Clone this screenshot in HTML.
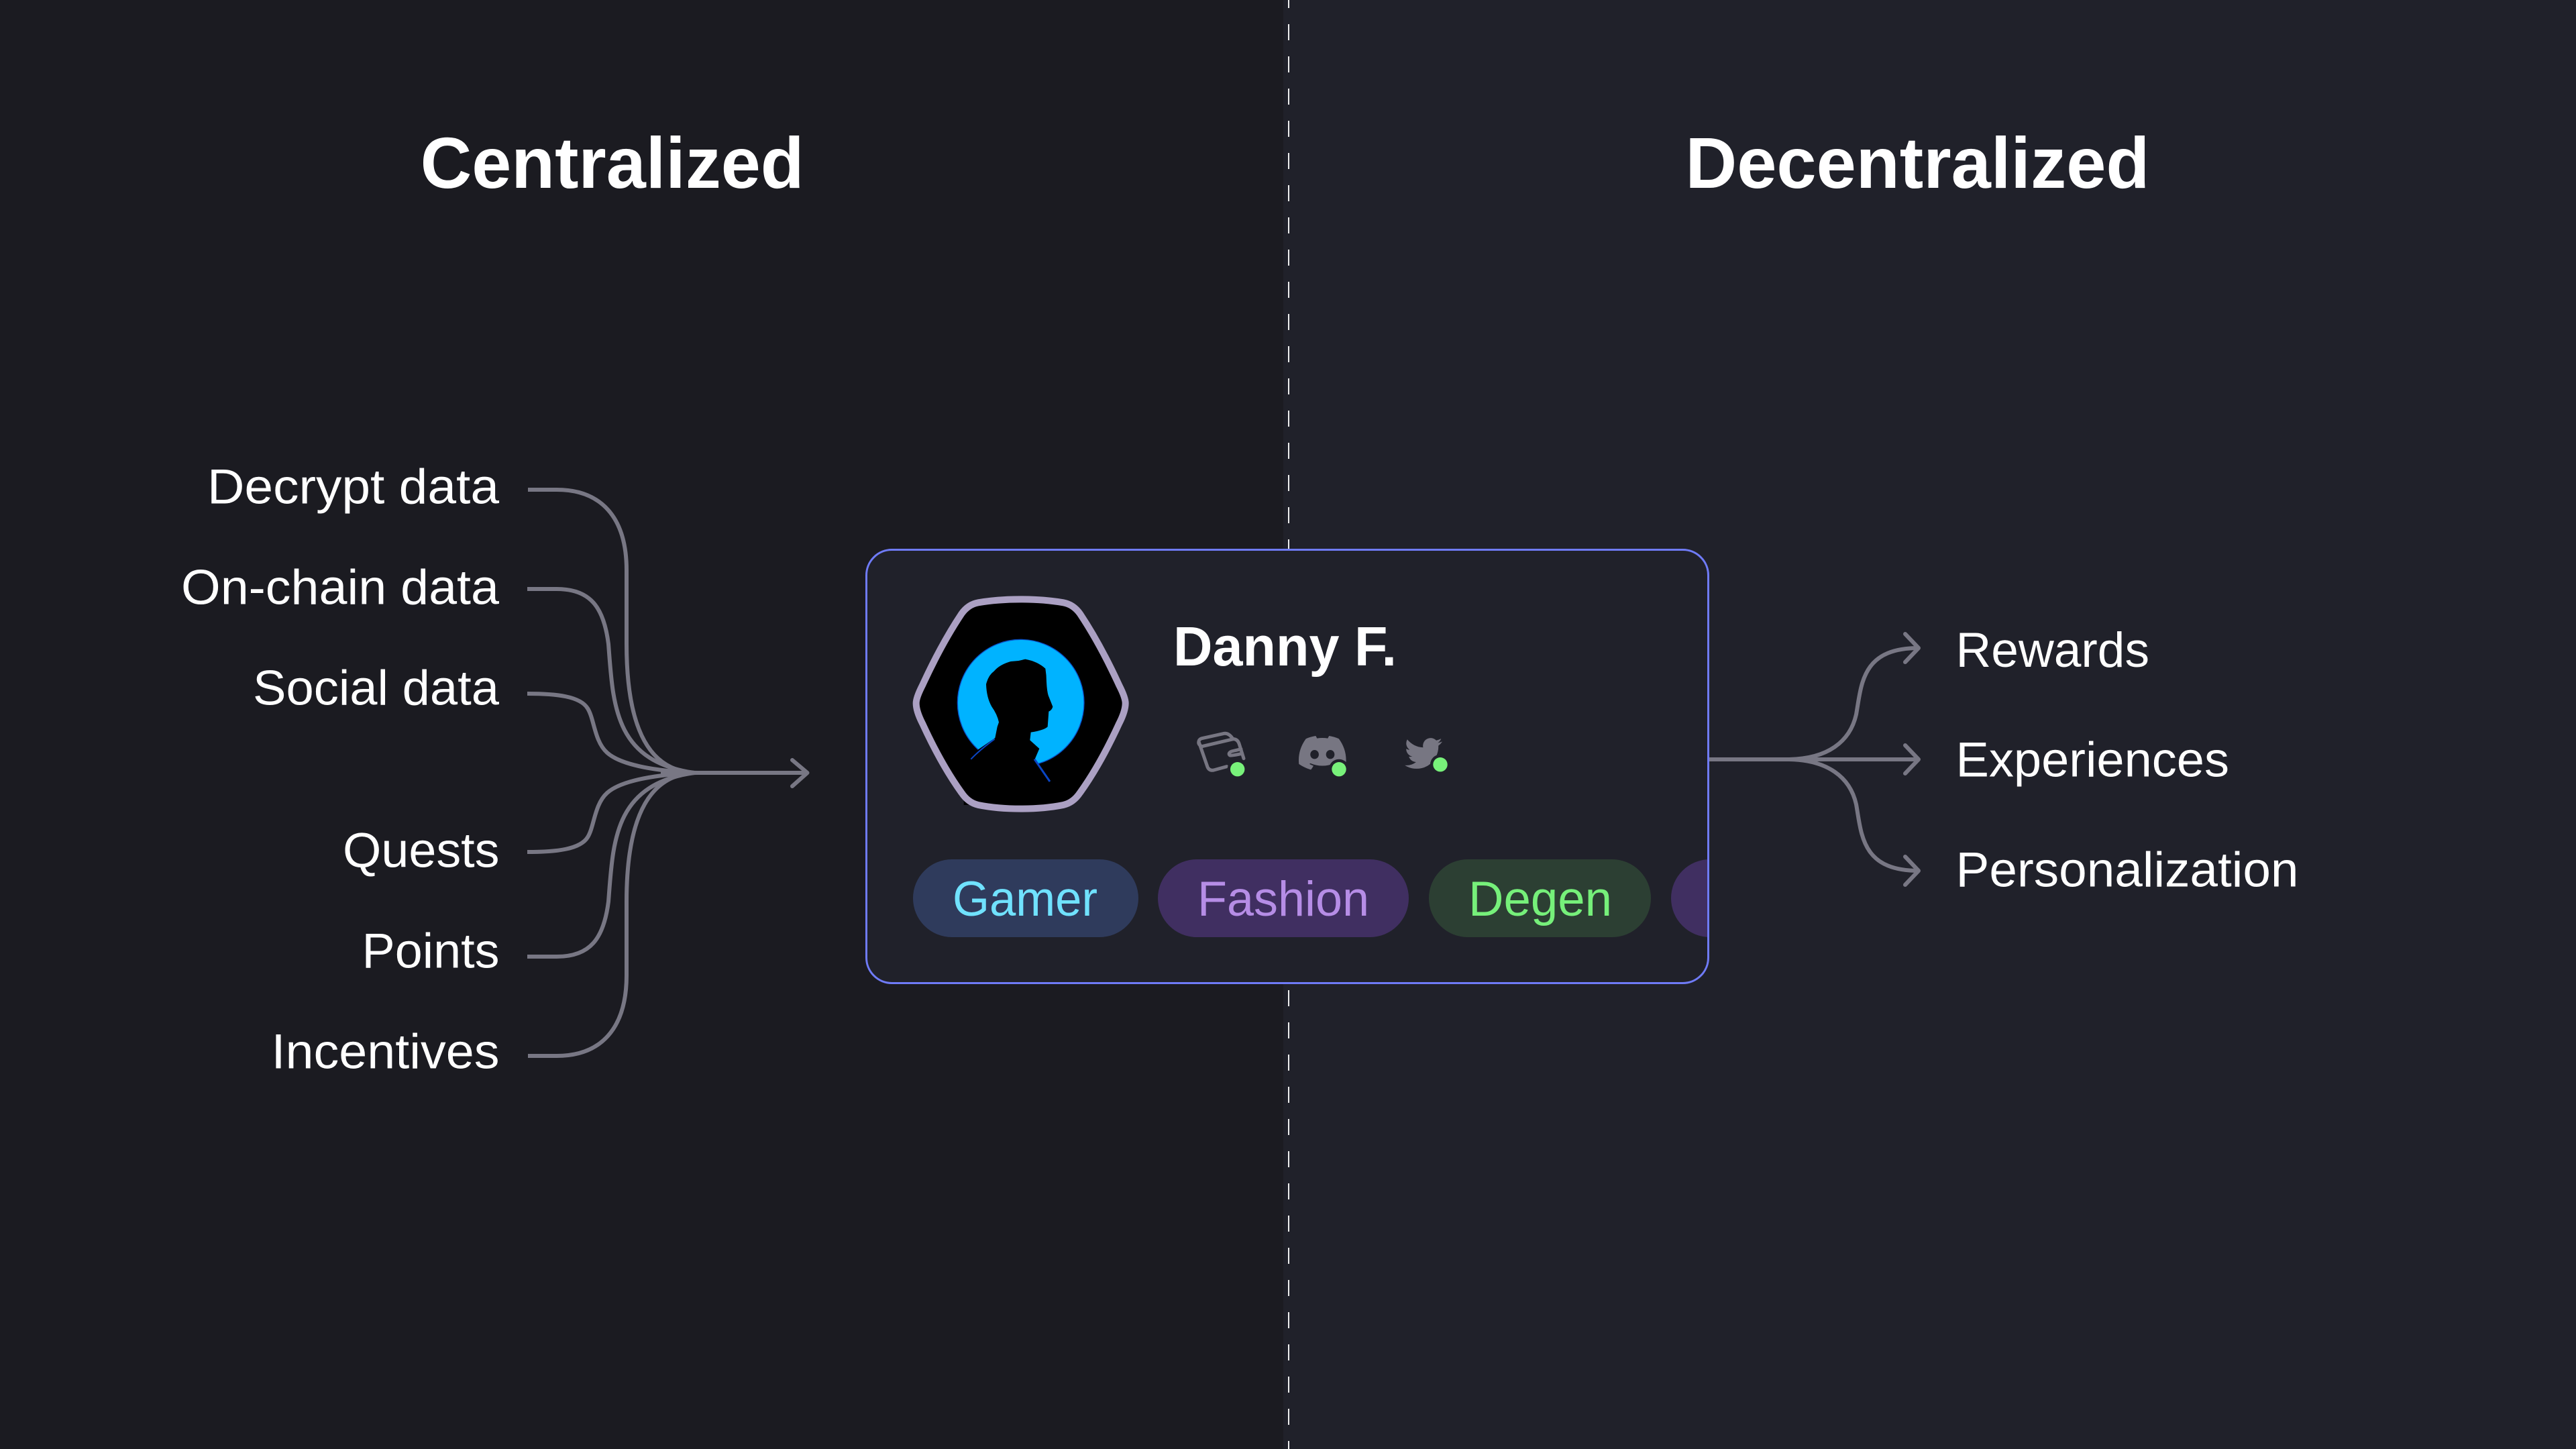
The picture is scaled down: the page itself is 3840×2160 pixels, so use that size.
<!DOCTYPE html>
<html lang="en">
<head>
<meta charset="utf-8">
<title>Centralized vs Decentralized</title>
<style>
html,body{margin:0;padding:0;background:#20212a;width:3840px;height:2160px;overflow:hidden}
svg{display:block}
text{font-family:"Liberation Sans",sans-serif;fill:#fff}
.t{font-size:108px;font-weight:700}
.l{font-size:73px}
.c{fill:none;stroke:#787784;stroke-width:6}
.h{fill:none;stroke:#787784;stroke-width:6;stroke-linecap:round;stroke-linejoin:round}
</style>
</head>
<body>
<svg xmlns="http://www.w3.org/2000/svg" width="3840" height="2160" viewBox="0 0 3840 2160">
<defs>
<clipPath id="card"><rect x="1291.5" y="819.5" width="1255" height="646" rx="38"/></clipPath>
</defs>
<rect width="3840" height="2160" fill="#20212a"/>
<rect width="1913" height="2160" fill="#1b1b21"/>
<line x1="1921" y1="-12" x2="1921" y2="2160" stroke="#eeeeee" stroke-width="2" stroke-dasharray="24 24"/>

<text class="t" x="626.6" y="280" textLength="572" lengthAdjust="spacingAndGlyphs">Centralized</text>
<text class="t" x="2512.4" y="280" textLength="692" lengthAdjust="spacingAndGlyphs">Decentralized</text>

<text class="l" x="309" y="750.3" textLength="435" lengthAdjust="spacingAndGlyphs">Decrypt data</text>
<text class="l" x="270" y="900.3" textLength="474" lengthAdjust="spacingAndGlyphs">On-chain data</text>
<text class="l" x="377" y="1050.3" textLength="367" lengthAdjust="spacingAndGlyphs">Social data</text>
<text class="l" x="511" y="1292.7" textLength="233.5" lengthAdjust="spacingAndGlyphs">Quests</text>
<text class="l" x="539.5" y="1442.7" textLength="205" lengthAdjust="spacingAndGlyphs">Points</text>
<text class="l" x="404.5" y="1592.7" textLength="340" lengthAdjust="spacingAndGlyphs">Incentives</text>

<text class="l" x="2915.5" y="994" textLength="288.5" lengthAdjust="spacingAndGlyphs">Rewards</text>
<text class="l" x="2915.5" y="1157.3" textLength="407.5" lengthAdjust="spacingAndGlyphs">Experiences</text>
<text class="l" x="2915.5" y="1321.7" textLength="511" lengthAdjust="spacingAndGlyphs">Personalization</text>

<!-- left connectors -->
<g>
<path class="c" d="M787 730 H830 C895 730 934 770 934 850 L934 960 C934 1090 970 1152 1040 1152"/>
<path class="c" d="M786 878 H830 C880 878 900 905 907 960 C914 1050 915 1135 1035 1152"/>
<path class="c" d="M786 1034 C830 1034 865 1038 876 1056 C886 1072 886 1105 905 1122 C925 1140 975 1149 1035 1152"/>
</g>
<g transform="matrix(1 0 0 -1 0 2304)">
<path class="c" d="M787 730 H830 C895 730 934 770 934 850 L934 960 C934 1090 970 1152 1040 1152"/>
<path class="c" d="M786 878 H830 C880 878 900 905 907 960 C914 1050 915 1135 1035 1152"/>
<path class="c" d="M786 1034 C830 1034 865 1038 876 1056 C886 1072 886 1105 905 1122 C925 1140 975 1149 1035 1152"/>
</g>
<path d="M985 1145 Q1020 1150 1050 1149 L1050 1155 Q1020 1154 985 1159 Z" fill="#787784"/>
<path class="c" d="M1030 1152 H1203"/>
<path class="h" d="M1181 1133 L1203.5 1152 L1181 1172"/>

<!-- right connectors -->
<path class="c" d="M2548 1132 H2860"/>
<path class="c" d="M2663 1132 C2725 1132 2758 1105 2767 1065 C2775 1020 2775 966 2860 966"/>
<path class="c" d="M2663 1132 C2725 1132 2758 1159 2767 1199 C2775 1244 2775 1298 2860 1298"/>
<path class="h" d="M2840 945 L2860 966 L2840 987"/>
<path class="h" d="M2840 1111 L2860 1132 L2840 1153"/>
<path class="h" d="M2840 1277 L2860 1298 L2840 1319"/>

<!-- card -->
<rect x="1291.5" y="819.5" width="1255" height="646" rx="38" fill="#20212a"/>
<g clip-path="url(#card)">
<rect x="2491" y="1281" width="300" height="116" rx="58" fill="#402f61"/>
</g>
<rect x="1291.5" y="819.5" width="1255" height="646" rx="38" fill="none" stroke="#6f7bf7" stroke-width="3"/>

<!-- avatar -->
<g transform="translate(1340 870) scale(.33333)">
<path d="M545 70 Q650 70 735 85 Q780 93 810 135 Q900 270 985 455 Q1013 510 1013 535 Q1013 570 985 625 Q900 810 810 935 Q780 980 735 990 Q650 1007 545 1007 Q440 1007 355 990 Q310 980 280 935 Q190 810 105 625 Q77 570 77 535 Q77 510 105 455 Q190 270 280 135 Q310 93 355 85 Q440 70 545 70 Z" fill="#000"/>
<circle cx="545" cy="533" r="283" fill="#00b3ff" stroke="#0a4fc8" stroke-width="4"/>
<path d="M440 640 L447 620 Q440 585 415 550 Q392 510 390 450 Q400 410 425 392 Q450 362 500 348 L535 345 L565 338 Q620 348 655 380 Q660 410 660 440 Q662 480 668 500 L688 550 Q685 565 670 572 L668 600 L665 640 Q650 655 590 665 L586 700 L628 738 L608 785 L650 860 L720 930 L720 990 L290 990 L290 830 L320 790 L350 745 L430 690 Z" fill="#000"/>
<path d="M322 785 Q360 745 428 695" fill="none" stroke="#0a45c4" stroke-width="6"/>
<path d="M606 785 L675 885" fill="none" stroke="#0a45c4" stroke-width="9"/>
<path d="M545 70 Q650 70 735 85 Q780 93 810 135 Q900 270 985 455 Q1013 510 1013 535 Q1013 570 985 625 Q900 810 810 935 Q780 980 735 990 Q650 1007 545 1007 Q440 1007 355 990 Q310 980 280 935 Q190 810 105 625 Q77 570 77 535 Q77 510 105 455 Q190 270 280 135 Q310 93 355 85 Q440 70 545 70 Z" fill="none" stroke="#aba0c3" stroke-width="30"/>
</g>

<text x="1749" y="992" font-size="83" font-weight="700" textLength="333" lengthAdjust="spacingAndGlyphs">Danny F.</text>

<!-- wallet -->
<g transform="translate(1750 1060) scale(.33333)" fill="none" stroke="#777682" stroke-width="15" stroke-linecap="round" stroke-linejoin="round">
<path d="M125 158 L265 125 Q285 125 292 148 L312 212"/>
<path d="M125 158 Q105 150 112 132 Q115 125 125 122 L225 100 Q245 98 262 122"/>
<path d="M112 140 L150 250 Q158 268 178 264 L236 248"/>
<path d="M300 170 L258 180 Q240 188 250 198 Q258 200 305 190"/>
</g>
<!-- discord -->
<path transform="translate(1936 1089.2) scale(2.94 2.75)" fill="#777682" d="M20.317 4.37a19.791 19.791 0 0 0-4.885-1.515.074.074 0 0 0-.079.037c-.21.375-.444.864-.608 1.25a18.27 18.27 0 0 0-5.487 0 12.64 12.64 0 0 0-.617-1.25.077.077 0 0 0-.079-.037A19.736 19.736 0 0 0 3.677 4.37a.07.07 0 0 0-.032.027C.533 9.046-.32 13.58.099 18.057a.082.082 0 0 0 .031.057 19.9 19.9 0 0 0 5.993 3.03.078.078 0 0 0 .084-.028 14.09 14.09 0 0 0 1.226-1.994.076.076 0 0 0-.041-.106 13.107 13.107 0 0 1-1.872-.892.077.077 0 0 1-.008-.128 10.2 10.2 0 0 0 .372-.292.074.074 0 0 1 .077-.01c3.928 1.793 8.18 1.793 12.062 0a.074.074 0 0 1 .078.01c.12.098.246.198.373.292a.077.077 0 0 1-.006.127 12.299 12.299 0 0 1-1.873.892.077.077 0 0 0-.041.107c.36.698.772 1.362 1.225 1.993a.076.076 0 0 0 .084.028 19.839 19.839 0 0 0 6.002-3.03.077.077 0 0 0 .032-.054c.5-5.177-.838-9.674-3.549-13.66a.061.061 0 0 0-.031-.03zM8.02 15.33c-1.183 0-2.157-1.085-2.157-2.419 0-1.333.956-2.419 2.157-2.419 1.21 0 2.176 1.096 2.157 2.42 0 1.333-.956 2.418-2.157 2.418zm7.975 0c-1.183 0-2.157-1.085-2.157-2.419 0-1.333.955-2.419 2.157-2.419 1.21 0 2.175 1.096 2.157 2.42 0 1.333-.946 2.418-2.157 2.418z"/>
<!-- twitter -->
<path transform="translate(2094 1094.8) scale(2.33 2.35)" fill="#777682" d="M23.953 4.57a10 10 0 01-2.825.775 4.958 4.958 0 002.163-2.723c-.951.555-2.005.959-3.127 1.184a4.92 4.92 0 00-8.384 4.482C7.69 8.095 4.067 6.13 1.64 3.162a4.822 4.822 0 00-.666 2.475c0 1.71.87 3.213 2.188 4.096a4.904 4.904 0 01-2.228-.616v.06a4.923 4.923 0 003.946 4.827 4.996 4.996 0 01-2.212.085 4.936 4.936 0 004.604 3.417 9.867 9.867 0 01-6.102 2.105c-.39 0-.779-.023-1.17-.067a13.995 13.995 0 007.557 2.209c9.053 0 13.998-7.496 13.998-13.985 0-.21 0-.42-.015-.63A9.935 9.935 0 0024 4.59z"/>
<!-- status dots -->
<circle cx="1844.7" cy="1146.7" r="15" fill="#20212a"/>
<circle cx="1996" cy="1146.7" r="15" fill="#20212a"/>
<circle cx="2147" cy="1139.7" r="15" fill="#20212a"/>
<circle cx="1844.7" cy="1146.7" r="10.7" fill="#78f17a"/>
<circle cx="1996" cy="1146.7" r="10.7" fill="#78f17a"/>
<circle cx="2147" cy="1139.7" r="10.7" fill="#78f17a"/>

<!-- pills -->
<rect x="1361" y="1281" width="336" height="116" rx="58" fill="#2f3b5c"/>
<rect x="1726" y="1281" width="374" height="116" rx="58" fill="#402f61"/>
<rect x="2130" y="1281" width="331" height="116" rx="58" fill="#2c3f33"/>
<text class="l" x="1420" y="1365" textLength="216" lengthAdjust="spacingAndGlyphs" style="fill:#70e2ff">Gamer</text>
<text class="l" x="1785" y="1365" textLength="256" lengthAdjust="spacingAndGlyphs" style="fill:#b68de6">Fashion</text>
<text class="l" x="2189" y="1365" textLength="214" lengthAdjust="spacingAndGlyphs" style="fill:#76f07a">Degen</text>
</svg>
</body>
</html>
